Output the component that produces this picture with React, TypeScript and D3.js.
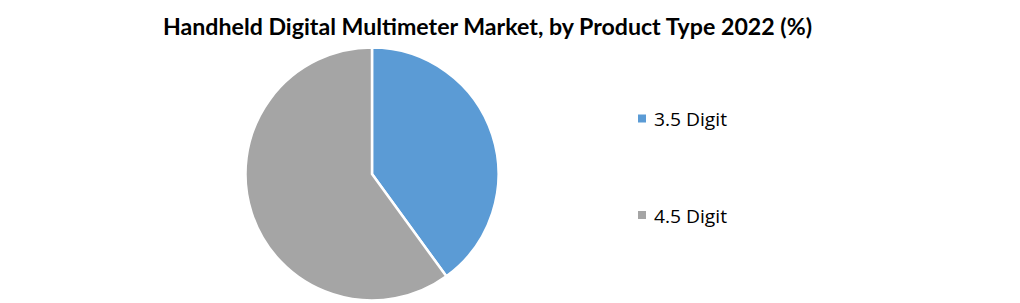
import React from "react";
import * as d3 from "d3";

const categories = ["3.5 Digit", "4.5 Digit"];
const values = [40, 60];
const colors = ["#5B9BD5", "#A5A5A5"];
const title = "Handheld Digital Multimeter Market, by Product Type 2022 (%)";

export default function App() {
  const W = 1020, H = 303;
  const cx = 372, cy = 174, r = 126.5;
  const pie = d3.pie<number>().sort(null).value((d) => d)(values);
  const arc = d3.arc<d3.PieArcDatum<number>>().innerRadius(0).outerRadius(r);
  const legendY = d3.scalePoint<string>().domain(categories).range([118.5, 215]);
  return (
    <svg width={W} height={H} style={{ position: "absolute", left: 0, top: 0, background: "#fff" }}>
      <rect width={W} height={H} fill="#fff" />
      <text x={487.5} y={35} textAnchor="middle" fontFamily="Lato, 'Open Sans', sans-serif" fontWeight={700} fontSize={22} textLength={649} lengthAdjust="spacingAndGlyphs" fill="#000">
        {title}
      </text>
      <g transform={`translate(${cx},${cy})`}>
        {pie.map((p, i) => (
          <path key={i} d={arc(p) || ""} fill={colors[i]} stroke="#fff" strokeWidth={2.5} strokeLinejoin="round" />
        ))}
      </g>
      {categories.map((c, i) => (
        <g key={c} transform={`translate(638,${legendY(c)})`}>
          <rect x={0} y={-4} width={8} height={8} fill={colors[i]} />
          <text x={16} y={7.8} fontFamily="'Open Sans', sans-serif" fontSize={18} textLength={73} lengthAdjust="spacingAndGlyphs" fill="#000">
            {c}
          </text>
        </g>
      ))}
    </svg>
  );
}
